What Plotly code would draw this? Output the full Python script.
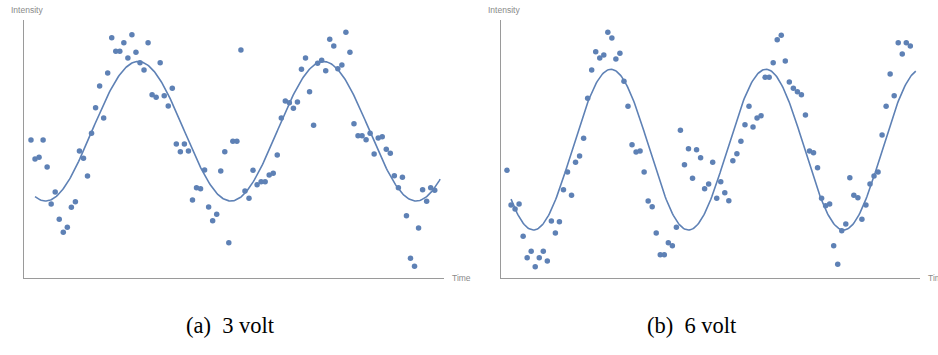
import numpy as np
import plotly.graph_objects as go

# ---- data -----------------------------------------------------------
time = list(range(101))

intensity_3v = [138, 119, 120.7, 138, 111, 74, 86, 58.7, 45.7, 50.7,
                70.7, 76.3, 127, 119.7, 102, 144.7, 170.3, 192, 160, 205,
                240.3, 226.7, 226.7, 235.3, 220, 243.3, 225.7, 215.3, 208, 235.3,
                183.3, 180.7, 215.3, 182.3, 172, 189.7, 134, 126.3, 134, 127,
                78, 90.3, 89.3, 108, 71, 57.3, 63.7, 107, 126.3, 35.3,
                136.7, 136.7, 228, 87, 79.7, 107.7, 93.3, 96.3, 96.3, 103,
                104.7, 123, 160, 177, 175.3, 169.7, 176, 208.7, 220, 186.3,
                152.7, 214.7, 217.7, 207.3, 238.7, 232, 209.3, 213, 245.7, 225.7,
                154.3, 142.3, 142.3, 138.3, 144.7, 124, 140, 141.3, 128.7, 124.7,
                102.3, 90.3, 100.7, 62.3, 19.7, 11.7, 50, 88.3, 76.7, 90.3,
                87.7]

intensity_6v = [107.7, 73, 69, 74, 41.7, 20.3, 26.7, 11.3, 20.3, 26.7,
                17, 57, 45, 56.3, 88.3, 106, 82.7, 115.7, 122, 139.7,
                179.7, 208, 226.3, 220, 223, 245.7, 240, 219, 224.7, 196.7,
                171.7, 133.3, 126, 127, 106, 77, 71.3, 45, 23.3, 23.3,
                35.3, 32.3, 50.7, 147.7, 113.3, 129.3, 99.7, 128.3, 120.3, 89.3,
                94, 115.7, 79.7, 96.3, 85.3, 77.3, 117.3, 124.3, 136.7, 153.3,
                171.7, 151, 160, 162.3, 200.7, 200.7, 215.3, 238.3, 242.7, 217,
                196, 189.7, 186.3, 183.3, 163, 127, 125.3, 110.3, 79.7, 72.3,
                74, 32.3, 13.7, 47.3, 54, 100.3, 82.7, 80.3, 58.7, 73,
                94, 102, 106, 143, 171.7, 204, 182.3, 235.3, 224, 235.3,
                232]

# fitted sinusoid parameters: offset, amplitude, period, time of minimum
fit_3v = dict(offset=146.75, amp=69.75, period=45.9, tmin=3.6)
fit_6v = dict(offset=128.35, amp=80.35, period=38.45, tmin=6.55)
fit_span = (1.0, 101.35)

captions = ["(a)  3 volt", "(b)  6 volt"]
axis_labels = ("Time", "Intensity")

# ---- figure ---------------------------------------------------------
W, H = 938, 355
BLUE = "#5E81B5"
AXC = "#9a9a9a"
LBL = "#8a8a8a"

def fit_curve(p):
    t = np.linspace(fit_span[0], fit_span[1], 400)
    y = p["offset"] - p["amp"] * np.cos(2 * np.pi * (t - p["tmin"]) / p["period"])
    return t, y

fig = go.Figure()

panels = [
    dict(data=intensity_3v, fit=fit_3v, x0=24, x1=444, xr=(-1.73, 102.3), ax="x", ay="y"),
    dict(data=intensity_6v, fit=fit_6v, x0=500.7, x1=920, xr=(-1.56, 102.4), ax="x2", ay="y2"),
]
ytop_px, ybot_px = 20, 278

for k, p in enumerate(panels):
    fig.add_trace(go.Scatter(x=time, y=p["data"], mode="markers",
                             marker=dict(color=BLUE, size=5.5),
                             xaxis=p["ax"], yaxis=p["ay"], showlegend=False,
                             cliponaxis=False))
    tx, ty = fit_curve(p["fit"])
    fig.add_trace(go.Scatter(x=tx, y=ty, mode="lines",
                             line=dict(color=BLUE, width=1.6),
                             xaxis=p["ax"], yaxis=p["ay"], showlegend=False))
    sfx = "" if k == 0 else "2"
    axis_common = dict(showgrid=False, zeroline=False, showticklabels=False,
                       ticks="", showline=True, linecolor=AXC, linewidth=1)
    fig.update_layout(**{
        "xaxis" + sfx: dict(domain=[p["x0"] / W, p["x1"] / W], range=list(p["xr"]),
                            anchor="y" + sfx, **axis_common),
        "yaxis" + sfx: dict(domain=[(H - ybot_px) / H, (H - ytop_px) / H],
                            range=[0, 258], anchor="x" + sfx, **axis_common),
    })
    # axis labels
    fig.add_annotation(x=(p["x1"] + 6) / W, y=(H - ybot_px) / H, xref="paper", yref="paper",
                       text=axis_labels[0], showarrow=False, xanchor="left", yanchor="middle",
                       font=dict(family="Liberation Sans", size=8.5, color=LBL))
    fig.add_annotation(x=(p["x0"] - 15) / W, y=(H - 10) / H, xref="paper", yref="paper",
                       text=axis_labels[1], showarrow=False, xanchor="left", yanchor="middle",
                       font=dict(family="Liberation Sans", size=8.5, color=LBL))
    # caption
    cx = [230, 692][k]
    fig.add_annotation(x=cx / W, y=(H - 325) / H, xref="paper", yref="paper",
                       text=captions[k], showarrow=False, xanchor="center", yanchor="middle",
                       font=dict(family="Liberation Serif", size=22.5, color="black"))

fig.update_layout(width=W, height=H, margin=dict(l=0, r=0, t=0, b=0),
                  paper_bgcolor="white", plot_bgcolor="white")

fig.write_html("out.html")
